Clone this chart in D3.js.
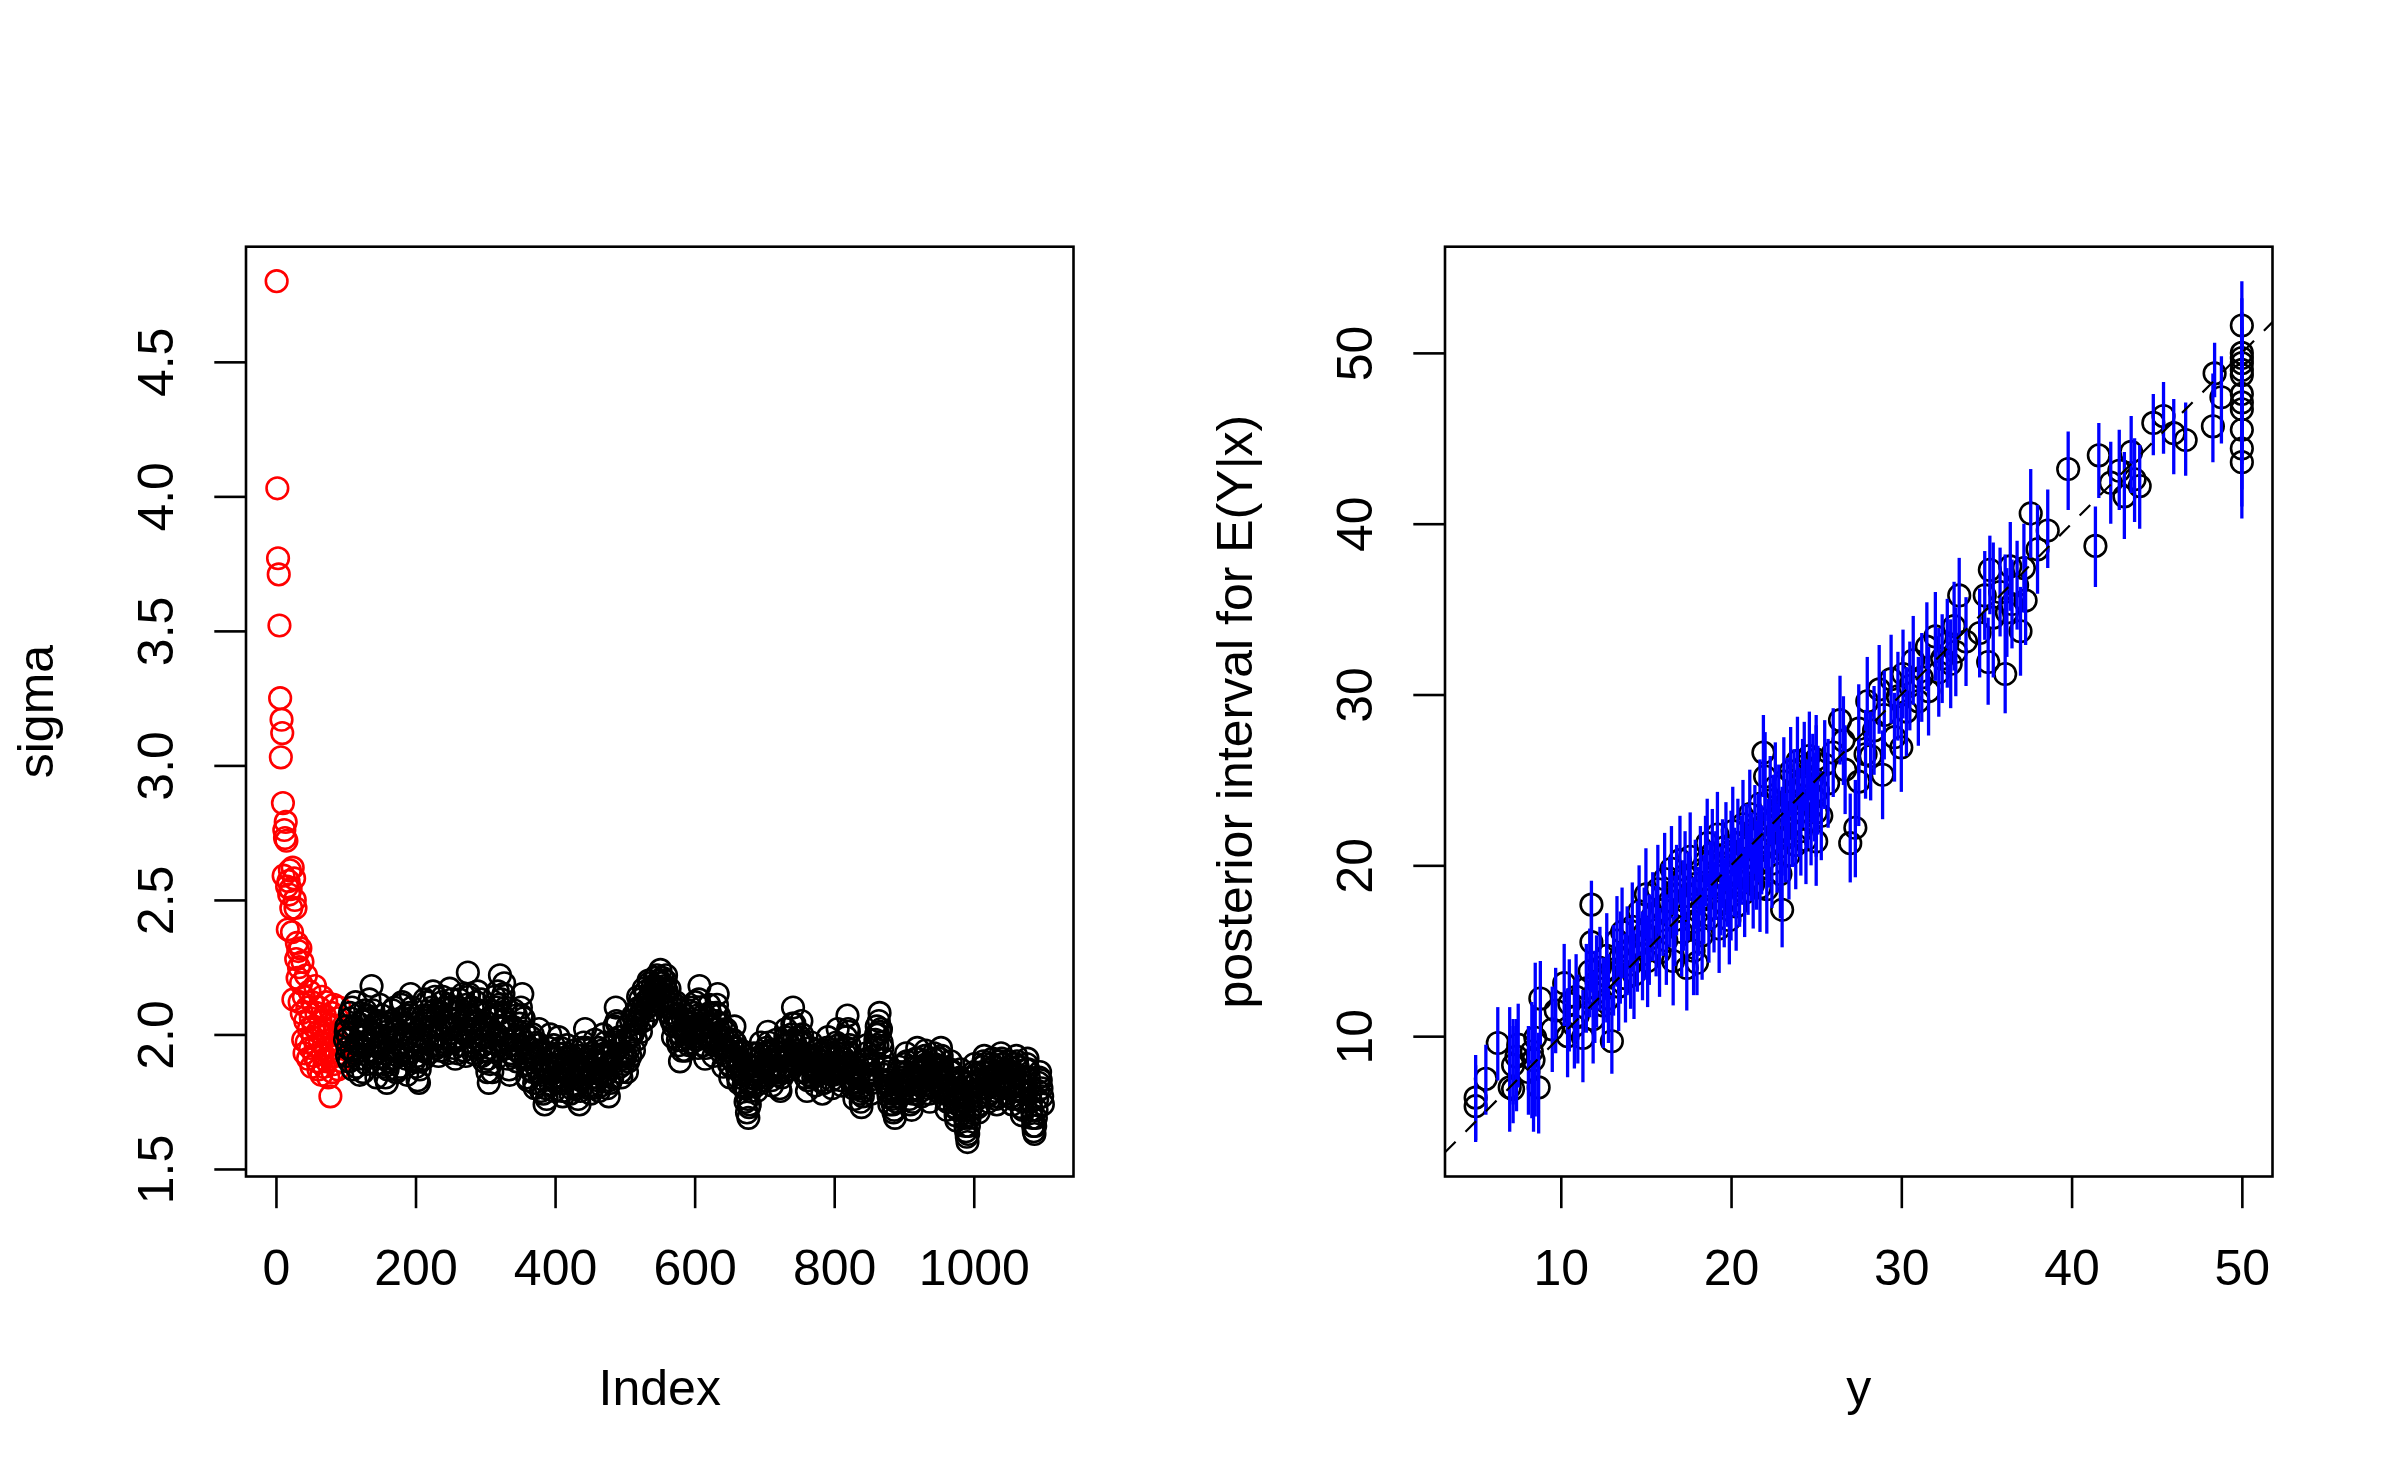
<!DOCTYPE html>
<html>
<head>
<meta charset="utf-8">
<style>
  body { margin: 0; background: #fff; }
  svg { display: block; }
  text { font-family: "Liberation Sans", Arial, sans-serif; font-size: 50px; fill: #000; }
  .box { fill: none; stroke: #000; stroke-width: 2.6px; }
  .tick line { stroke: #000; stroke-width: 2.6px; }
  .pt { fill: none; stroke-width: 2.6px; }
  .ci { stroke: #0000ff; stroke-width: 3.3px; }
  .refline { stroke: #000; stroke-width: 2.2px; stroke-dasharray: 15,14; fill: none; }
</style>
</head>
<body>
<div id="chart"></div>
<script src="https://cdn.jsdelivr.net/npm/d3@7"></script>
<script>
  // ---- left panel: sigma trace ----
  // burn-in draws, iterations 1..95 (red)
  var sigmaBurnIn = [
    4.80, 4.03, 3.77, 3.71, 3.52, 3.25, 3.03, 3.17, 3.12, 2.86,
    2.59, 2.76, 2.73, 2.79, 2.72, 2.55, 2.39, 2.57, 2.52, 2.61,
    2.54, 2.47, 2.38, 2.62, 2.13, 2.58, 2.50, 2.47, 2.28, 2.34,
    2.21, 2.31, 2.25, 2.12, 2.32, 2.19, 2.08, 2.27, 1.98, 2.14,
    1.93, 2.05, 2.22, 1.97, 2.10, 1.91, 2.02, 2.16, 1.95, 2.06,
    1.88, 2.12, 1.99, 2.03, 1.92, 2.18, 1.96, 2.08, 1.90, 2.01,
    1.87, 2.10, 1.97, 2.05, 1.85, 2.14, 1.93, 2.02, 1.88, 2.07,
    1.95, 2.12, 1.90, 2.00, 1.84, 2.04, 1.93, 1.77, 1.98, 2.08,
    1.86, 1.95, 2.11, 1.89, 2.03, 1.92, 1.98, 2.06, 1.87, 1.96,
    2.10, 1.93, 2.01, 1.90, 1.99
  ];
  // kept draws at odd iterations 99, 101, ..., 1099 (black)
  var sigmaKeptOdd = [
    1.98, 2.03, 1.95, 1.90, 2.06, 2.10, 2.01, 1.93, 1.88, 1.96, 2.04, 2.08, 1.99, 1.86, 1.91, 2.00, 2.07, 2.02, 1.94, 2.18, 2.09, 1.97, 1.89, 1.93, 2.05,
    2.11, 2.03, 1.96, 1.88, 1.84, 1.82, 1.90, 1.98, 2.05, 2.09, 2.01, 1.94, 1.87, 1.92, 2.00, 2.06, 2.12, 2.04, 1.97, 1.91, 1.99, 2.08, 2.15, 2.10, 2.02,
    1.95, 1.88, 1.83, 1.82, 1.90, 1.99, 2.07, 2.13, 2.06, 1.98, 1.93, 2.01, 2.10, 2.16, 2.09, 2.03, 1.96, 1.92, 2.00, 2.08, 2.14, 2.05, 1.97, 2.02, 2.11,
    2.17, 2.10, 2.03, 1.95, 1.91, 1.98, 2.06, 2.13, 2.09, 2.01, 1.94, 2.00, 2.11, 2.23, 2.15, 2.07, 1.99, 1.93, 2.04, 2.12, 2.16, 2.08, 2.00, 1.92, 1.96,
    2.03, 1.94, 1.86, 1.82, 1.89, 1.97, 2.06, 2.14, 2.07, 2.00, 2.11, 2.22, 2.13, 2.05, 2.19, 2.10, 1.98, 1.91, 1.85, 1.93, 2.02, 2.09, 1.99, 1.90, 1.96,
    2.04, 2.10, 2.15, 2.06, 1.97, 1.89, 1.83, 1.91, 1.99, 1.93, 1.86, 1.80, 1.88, 1.96, 2.02, 1.94, 1.85, 1.78, 1.74, 1.80, 1.87, 1.95, 2.00, 1.92, 1.84,
    1.79, 1.86, 1.93, 1.99, 1.90, 1.83, 1.77, 1.82, 1.89, 1.96, 1.91, 1.85, 1.80, 1.87, 1.94, 1.88, 1.81, 1.76, 1.74, 1.83, 1.90, 1.97, 2.02, 1.95, 1.87,
    1.81, 1.78, 1.84, 1.92, 1.98, 1.90, 1.83, 1.79, 1.86, 1.94, 2.00, 1.93, 1.85, 1.80, 1.77, 1.82, 1.89, 1.96, 2.03, 2.10, 2.04, 1.95, 1.88, 1.84, 1.91,
    1.97, 1.92, 1.86, 1.90, 1.99, 2.05, 2.00, 1.94, 2.02, 2.09, 2.14, 2.07, 2.01, 2.10, 2.17, 2.12, 2.06, 2.13, 2.19, 2.15, 2.09, 2.16, 2.21, 2.18, 2.12,
    2.20, 2.24, 2.17, 2.11, 2.18, 2.22, 2.14, 2.08, 2.13, 2.05, 1.99, 2.07, 2.12, 2.03, 1.96, 1.90, 1.98, 2.06, 2.01, 1.94, 2.02, 2.09, 2.04, 1.97, 2.03,
    2.08, 2.12, 2.01, 1.95, 2.18, 2.10, 2.03, 1.96, 1.91, 1.99, 2.06, 2.11, 2.04, 1.97, 1.92, 2.00, 2.08, 2.15, 2.07, 1.98, 1.93, 1.88, 1.95, 2.02, 1.94,
    1.89, 1.84, 1.91, 1.98, 2.03, 1.95, 1.87, 1.82, 1.88, 1.94, 1.86, 1.80, 1.75, 1.71, 1.69, 1.74, 1.81, 1.88, 1.93, 1.85, 1.79, 1.84, 1.91, 1.97, 1.90,
    1.83, 1.88, 1.95, 2.01, 1.94, 1.87, 1.81, 1.86, 1.92, 1.98, 1.91, 1.85, 1.79, 1.84, 1.90, 1.96, 2.02, 1.94, 1.88, 1.93, 2.00, 2.10, 2.04, 1.96, 1.89,
    1.93, 1.99, 2.05, 1.97, 1.90, 1.84, 1.79, 1.85, 1.92, 1.97, 1.91, 1.86, 1.81, 1.87, 1.94, 1.89, 1.83, 1.78, 1.82, 1.88, 1.95, 1.99, 1.92, 1.86, 1.80,
    1.85, 1.91, 1.97, 2.02, 1.94, 1.87, 1.81, 1.86, 1.93, 1.99, 2.07, 2.01, 1.93, 1.86, 1.80, 1.76, 1.82, 1.89, 1.84, 1.78, 1.73, 1.77, 1.84, 1.90, 1.96,
    1.89, 1.83, 1.78, 1.85, 1.92, 1.98, 2.03, 2.00, 2.08, 2.02, 1.95, 1.88, 1.82, 1.86, 1.79, 1.74, 1.80, 1.76, 1.71, 1.69, 1.75, 1.82, 1.88, 1.84, 1.78,
    1.83, 1.89, 1.93, 1.86, 1.79, 1.74, 1.72, 1.78, 1.85, 1.91, 1.95, 1.88, 1.82, 1.77, 1.84, 1.90, 1.94, 1.87, 1.80, 1.75, 1.81, 1.88, 1.93, 1.86, 1.79,
    1.85, 1.91, 1.95, 1.88, 1.81, 1.76, 1.72, 1.78, 1.84, 1.90, 1.86, 1.79, 1.73, 1.68, 1.74, 1.80, 1.87, 1.82, 1.75, 1.69, 1.64, 1.60, 1.66, 1.72, 1.78,
    1.84, 1.89, 1.82, 1.76, 1.71, 1.77, 1.83, 1.88, 1.92, 1.86, 1.80, 1.75, 1.81, 1.87, 1.91, 1.85, 1.79, 1.74, 1.80, 1.86, 1.93, 1.89, 1.83, 1.78, 1.84,
    1.90, 1.86, 1.80, 1.74, 1.79, 1.85, 1.92, 1.88, 1.82, 1.76, 1.70, 1.75, 1.81, 1.87, 1.91, 1.84, 1.78, 1.72, 1.66, 1.63, 1.69, 1.76, 1.82, 1.86, 1.80,
    1.74
  ];
  // kept draws at even iterations 100, 102, ..., 1098 (black)
  var sigmaKeptEven = [
    2.01, 1.92, 1.99, 2.08, 1.94, 1.87, 2.03, 2.12, 1.97, 1.91, 1.85, 2.00, 2.05, 1.95, 2.09, 1.89, 1.96, 2.13, 2.06, 1.99, 1.92, 2.04, 1.84, 2.00, 1.95,
    1.97, 2.07, 1.89, 1.93, 2.01, 1.87, 1.95, 2.04, 1.91, 1.99, 2.10, 1.86, 2.02, 1.96, 1.88, 2.11, 1.94, 2.00, 2.07, 1.85, 2.03, 1.93, 2.06, 1.98, 1.90,
    2.04, 1.92, 1.97, 1.87, 2.02, 1.94, 1.91, 2.05, 2.12, 1.93, 2.07, 1.96, 2.03, 1.99, 2.14, 1.95, 2.08, 2.00, 1.94, 2.12, 2.03, 1.96, 2.10, 1.93, 2.06,
    2.02, 2.13, 1.97, 2.08, 1.99, 1.93, 2.10, 2.02, 1.96, 2.15, 2.05, 1.92, 2.07, 2.14, 2.01, 1.97, 2.10, 2.05, 1.95, 2.02, 2.09, 1.98, 2.13, 2.04, 1.90,
    1.99, 2.08, 1.91, 1.95, 2.02, 1.86, 2.00, 1.94, 2.10, 2.16, 2.03, 2.08, 1.97, 2.15, 2.06, 1.95, 2.04, 1.87, 1.96, 2.03, 1.92, 1.98, 2.07, 1.94, 2.01,
    1.93, 2.07, 1.98, 2.01, 1.91, 1.84, 1.95, 1.87, 1.92, 2.00, 1.82, 1.91, 1.97, 1.86, 1.93, 1.79, 1.88, 1.83, 1.90, 1.76, 1.93, 1.86, 1.81, 1.89, 1.96,
    1.91, 1.82, 1.88, 1.84, 1.95, 1.79, 1.87, 1.93, 1.83, 1.90, 1.86, 1.78, 1.92, 1.84, 1.89, 1.80, 1.86, 1.92, 1.79, 1.87, 1.95, 1.84, 1.91, 1.88, 1.80,
    1.88, 1.93, 1.80, 1.86, 1.90, 1.84, 1.95, 1.87, 1.81, 1.89, 1.85, 1.97, 1.88, 1.92, 1.83, 1.90, 1.84, 1.93, 1.98, 2.05, 1.92, 1.99, 1.86, 1.93, 1.89,
    1.93, 1.98, 2.03, 1.95, 1.92, 2.01, 2.07, 2.04, 1.98, 2.05, 2.10, 2.13, 2.08, 2.05, 2.11, 2.16, 2.10, 2.20, 2.14, 2.11, 2.18, 2.13, 2.17, 2.22, 2.16,
    2.15, 2.19, 2.21, 2.14, 2.20, 2.16, 2.10, 2.17, 2.06, 2.10, 2.03, 2.11, 2.06, 1.98, 2.05, 2.00, 1.94, 2.02, 2.07, 1.99, 2.05, 1.96, 2.10, 2.02, 1.99,
    2.03, 1.98, 2.07, 2.13, 2.02, 1.99, 2.07, 2.00, 1.95, 2.04, 1.98, 2.08, 1.99, 2.03, 1.96, 2.05, 2.11, 2.02, 1.96, 2.04, 1.99, 1.95, 2.01, 1.92, 1.98,
    1.94, 1.88, 1.95, 1.90, 1.97, 1.91, 1.84, 1.89, 1.93, 1.85, 1.81, 1.87, 1.80, 1.76, 1.73, 1.79, 1.84, 1.91, 1.86, 1.81, 1.88, 1.93, 1.86, 1.92, 1.85,
    1.89, 1.93, 1.86, 1.97, 1.90, 1.83, 1.88, 1.94, 1.87, 1.93, 1.86, 1.80, 1.88, 1.93, 1.86, 1.99, 1.92, 1.97, 1.91, 1.87, 2.04, 1.98, 1.92, 1.90, 1.94,
    1.97, 1.91, 2.00, 1.93, 1.86, 1.90, 1.83, 1.89, 1.95, 1.88, 1.84, 1.92, 1.86, 1.91, 1.85, 1.93, 1.87, 1.82, 1.90, 1.94, 1.89, 1.93, 1.87, 1.83, 1.88,
    1.89, 1.86, 1.93, 1.96, 1.90, 1.83, 1.88, 1.91, 1.87, 1.95, 2.02, 1.96, 1.89, 1.82, 1.85, 1.81, 1.87, 1.84, 1.80, 1.75, 1.79, 1.83, 1.88, 1.93, 1.91,
    1.85, 1.87, 1.82, 1.89, 1.95, 2.00, 1.96, 2.05, 2.01, 1.97, 1.91, 1.85, 1.88, 1.81, 1.77, 1.83, 1.78, 1.74, 1.72, 1.78, 1.80, 1.86, 1.81, 1.79, 1.84,
    1.86, 1.82, 1.90, 1.81, 1.76, 1.79, 1.75, 1.82, 1.88, 1.86, 1.91, 1.84, 1.79, 1.81, 1.87, 1.92, 1.89, 1.83, 1.78, 1.85, 1.84, 1.91, 1.89, 1.82, 1.83,
    1.88, 1.87, 1.92, 1.84, 1.78, 1.80, 1.75, 1.81, 1.87, 1.86, 1.82, 1.76, 1.70, 1.72, 1.77, 1.84, 1.83, 1.78, 1.72, 1.66, 1.62, 1.63, 1.69, 1.75, 1.81,
    1.86, 1.85, 1.79, 1.73, 1.74, 1.80, 1.86, 1.90, 1.89, 1.83, 1.77, 1.78, 1.84, 1.89, 1.88, 1.82, 1.76, 1.77, 1.83, 1.90, 1.91, 1.86, 1.80, 1.81, 1.87,
    1.88, 1.83, 1.77, 1.76, 1.82, 1.89, 1.90, 1.85, 1.79, 1.73, 1.72, 1.78, 1.84, 1.89, 1.87, 1.81, 1.75, 1.69, 1.64, 1.66, 1.72, 1.79, 1.84, 1.83, 1.77
  ];
  var indexTicks = [0, 200, 400, 600, 800, 1000];
  var sigmaTicks = [1.5, 2.0, 2.5, 3.0, 3.5, 4.0, 4.5];

  // ---- right panel: observed y vs posterior for E(Y|x) ----
  var obsY = [
    5.0, 5.0, 5.6, 6.3, 7.0, 7.2, 7.2, 7.4, 7.5, 8.1,
    8.3, 8.4, 8.5, 8.7, 8.8, 9.5, 9.7, 10.2, 10.4, 10.5,
    10.8, 10.9, 11.0, 11.3, 11.5, 11.7, 11.8, 11.8, 11.9, 12.0,
    12.1, 12.3, 12.5, 12.7, 12.7, 12.8, 13.0, 13.1, 13.3, 13.4,
    13.5, 13.6, 13.8, 13.9, 14.1, 14.2, 14.3, 14.5, 14.6, 14.8,
    14.9, 15.0, 15.1, 15.2, 15.4, 15.6, 15.7, 15.8, 16.0, 16.1,
    16.2, 16.4, 16.5, 16.6, 16.7, 16.8, 17.0, 17.1, 17.2, 17.3,
    17.4, 17.5, 17.6, 17.8, 17.8, 17.9, 18.0, 18.1, 18.2, 18.3,
    18.4, 18.5, 18.6, 18.7, 18.8, 18.9, 19.0, 19.1, 19.2, 19.3,
    19.4, 19.5, 19.6, 19.7, 19.8, 19.9, 20.0, 20.0, 20.1, 20.2,
    20.3, 20.4, 20.5, 20.6, 20.7, 20.8, 20.9, 21.0, 21.1, 21.2,
    21.3, 21.4, 21.5, 21.6, 21.7, 21.7, 21.8, 21.9, 22.0, 22.0,
    22.1, 22.2, 22.3, 22.4, 22.5, 22.6, 22.7, 22.8, 22.9, 23.0,
    23.0, 23.1, 23.2, 23.3, 23.4, 23.5, 23.6, 23.7, 23.8, 23.9,
    24.0, 24.1, 24.2, 24.3, 24.4, 24.5, 24.6, 24.7, 24.8, 24.9,
    25.0, 25.0, 25.0, 25.0, 25.1, 25.3, 25.5, 25.7, 26.0, 26.4,
    26.6, 26.7, 27.0, 27.3, 27.5, 27.5, 27.9, 28.0, 28.2, 28.4,
    28.7, 28.9, 29.0, 29.4, 29.6, 29.8, 30.0, 30.1, 30.3, 30.5,
    30.7, 31.0, 31.2, 31.5, 31.6, 32.0, 32.2, 32.4, 32.7, 32.9,
    33.1, 33.2, 33.4, 33.8, 34.6, 34.9, 35.1, 35.2, 35.4, 35.8,
    36.1, 36.2, 36.4, 36.5, 36.8, 37.0, 37.2, 37.3, 37.6, 38.0,
    38.6, 39.8, 41.4, 41.6, 42.3, 42.8, 43.1, 43.5, 43.7, 44.0,
    44.8, 45.4, 46.0, 46.7, 48.3, 48.4, 48.8, 50.0, 50.0, 50.0,
    50.0, 50.0, 50.0, 50.0, 50.0, 50.0, 50.0, 50.0, 50.0
  ];
  var postMean = [
    6.4, 5.9, 7.5, 9.6, 7.0, 6.9, 8.3, 8.8, 9.5, 7.9,
    9.1, 8.6, 9.9, 7.0, 12.2, 10.4, 11.5, 13.1, 10.0, 11.9,
    10.6, 12.3, 11.2, 9.9, 12.8, 13.8, 17.7, 15.5, 11.0, 12.5,
    13.2, 14.0, 11.8, 13.5, 14.7, 12.2, 9.7, 13.9, 15.6, 12.9,
    14.6, 16.1, 13.4, 15.0, 14.2, 16.4, 13.6, 15.3, 17.3, 14.8,
    16.0, 18.3, 14.4, 15.7, 17.0, 16.2, 18.6, 14.9, 17.4, 19.2,
    15.6, 17.9, 19.8, 14.4, 16.8, 18.6, 20.3, 16.1, 17.6, 19.4,
    14.0, 18.2, 20.5, 16.7, 15.0, 18.9, 14.3, 17.3, 19.7, 15.9,
    18.0, 20.2, 21.3, 16.9, 18.8, 20.7, 17.5, 19.4, 21.8, 16.3,
    18.5, 20.1, 17.8, 21.1, 19.0, 16.8, 20.6, 18.2, 22.0, 19.6,
    17.6, 21.3, 19.0, 20.3, 22.4, 18.4, 21.0, 19.7, 23.0, 20.5,
    18.9, 22.1, 20.0, 21.6, 23.6, 18.7, 20.9, 26.6, 25.2, 22.4,
    18.6, 21.3, 23.8, 20.1, 22.7, 24.6, 21.0, 23.3, 19.5, 17.4,
    22.0, 24.9, 21.6, 23.7, 20.6, 25.5, 22.5, 24.2, 21.2, 26.1,
    23.1, 22.0, 24.8, 25.8, 21.5, 23.6, 26.4, 22.6, 25.1, 24.0,
    21.4, 26.2, 23.1, 25.6, 24.4, 22.9, 25.9, 24.8, 26.6, 28.5,
    27.3, 25.6, 21.3, 22.2, 28.0, 24.9, 26.5, 29.6, 26.4, 27.9,
    30.3, 25.3, 28.8, 30.9, 27.5, 29.9, 26.9, 31.2, 29.0, 30.5,
    32.0, 29.6, 31.0, 32.8, 30.2, 33.4, 31.3, 32.1, 33.0, 31.8,
    34.0, 32.5, 35.8, 33.1, 33.6, 35.8, 31.9, 37.3, 34.5, 36.0,
    31.2, 34.8, 37.5, 35.3, 36.4, 33.7, 37.4, 35.5, 40.6, 38.5,
    39.6, 43.2, 38.7, 44.0, 42.4, 43.1, 41.6, 44.2, 42.6, 42.2,
    45.9, 46.3, 45.3, 44.9, 45.7, 48.8, 47.4, 51.6, 50.0, 49.7,
    49.4, 49.0, 48.7, 47.6, 47.1, 46.7, 45.5, 44.4, 43.6
  ];
  var postLo = [
    3.8, 3.9, 5.4, 7.4, 4.4, 4.9, 6.0, 5.6, 7.0, 5.4,
    5.2, 4.4, 5.3, 4.3, 9.5, 7.9, 9.0, 10.6, 7.6, 9.1,
    8.1, 9.7, 8.4, 7.3, 10.2, 11.1, 12.6, 12.6, 8.4, 9.6,
    10.5, 11.5, 9.3, 10.8, 12.1, 9.6, 7.8, 11.2, 12.9, 10.3,
    11.9, 13.4, 10.8, 12.4, 11.6, 13.8, 11.0, 12.6, 14.7, 12.1,
    13.3, 15.7, 11.7, 13.0, 14.4, 13.5, 16.0, 12.3, 14.7, 16.6,
    13.0, 15.2, 17.1, 11.8, 14.1, 15.9, 17.7, 13.5, 15.0, 16.8,
    11.5, 15.6, 17.9, 14.0, 12.4, 16.3, 12.4, 14.7, 17.1, 13.3,
    15.4, 17.6, 18.7, 14.3, 16.2, 18.1, 14.9, 16.8, 19.2, 13.7,
    15.9, 17.5, 15.2, 18.5, 16.4, 14.2, 18.0, 15.6, 19.4, 17.0,
    15.0, 18.7, 16.4, 17.7, 19.8, 15.8, 18.4, 17.1, 20.4, 17.9,
    16.3, 19.5, 17.4, 19.0, 21.0, 16.1, 18.3, 24.0, 22.6, 19.8,
    16.0, 18.7, 21.2, 17.5, 20.1, 22.0, 18.4, 20.7, 16.9, 15.2,
    19.4, 22.3, 19.0, 21.1, 18.0, 22.9, 19.9, 21.6, 18.6, 23.5,
    20.5, 19.4, 22.2, 23.2, 18.9, 21.0, 23.8, 20.0, 22.5, 21.4,
    18.8, 23.6, 20.5, 23.0, 21.8, 20.3, 23.3, 22.2, 24.0, 25.9,
    24.7, 23.0, 19.0, 19.3, 25.4, 22.3, 23.9, 27.0, 23.8, 25.3,
    27.7, 22.7, 26.2, 28.3, 24.9, 27.3, 24.3, 28.6, 26.4, 27.9,
    29.4, 27.0, 28.4, 30.2, 27.6, 30.8, 28.7, 29.5, 30.4, 29.2,
    31.4, 29.9, 33.2, 30.5, 31.0, 33.2, 29.4, 34.7, 31.0, 33.4,
    28.9, 32.2, 34.9, 32.7, 33.8, 31.1, 34.8, 32.9, 38.0, 35.9,
    37.4, 40.8, 36.3, 41.5, 40.0, 40.8, 39.1, 41.8, 40.1, 39.7,
    44.0, 44.1, 42.9, 42.8, 43.6, 47.4, 44.7, 48.5, 46.5, 47.0,
    46.0, 45.7, 45.5, 44.5, 44.0, 43.5, 42.0, 41.0, 40.3
  ];
  var postHi = [
    8.9, 8.3, 9.5, 11.7, 11.7, 11.0, 10.6, 11.0, 11.9, 10.6,
    12.0, 11.8, 14.3, 10.2, 14.4, 12.9, 14.0, 15.4, 12.8, 14.5,
    13.3, 14.8, 13.6, 12.7, 15.4, 16.3, 19.1, 18.0, 13.8, 15.0,
    15.9, 16.4, 14.6, 16.1, 17.2, 14.8, 12.4, 16.5, 18.2, 15.5,
    17.3, 18.7, 16.0, 17.6, 16.9, 19.0, 16.2, 17.9, 20.0, 17.3,
    18.7, 21.0, 17.0, 18.3, 19.6, 18.8, 21.2, 17.5, 20.1, 21.9,
    18.3, 20.5, 22.3, 17.0, 19.4, 21.2, 22.9, 18.7, 20.3, 22.0,
    16.7, 20.8, 23.1, 19.3, 17.6, 21.5, 17.2, 19.9, 22.3, 18.5,
    20.6, 22.9, 23.9, 19.5, 21.4, 23.3, 20.2, 22.0, 24.3, 18.9,
    21.1, 22.7, 20.4, 23.7, 21.6, 19.4, 23.2, 20.8, 24.6, 22.2,
    20.2, 23.9, 21.6, 22.9, 25.0, 21.0, 23.6, 22.3, 25.6, 23.1,
    21.5, 24.7, 22.6, 24.2, 26.2, 21.3, 23.5, 28.8, 27.8, 25.0,
    21.2, 23.9, 26.4, 22.7, 25.3, 27.2, 23.6, 25.9, 22.1, 20.0,
    24.6, 27.5, 24.2, 26.3, 23.2, 28.1, 25.1, 26.8, 23.8, 28.7,
    25.7, 24.6, 27.4, 28.4, 24.1, 26.2, 29.0, 25.2, 27.7, 26.6,
    24.0, 28.8, 25.7, 28.2, 27.0, 25.5, 28.5, 27.4, 29.2, 31.1,
    29.9, 28.2, 24.2, 25.0, 30.6, 27.5, 29.1, 32.2, 29.0, 30.5,
    32.9, 27.9, 31.4, 33.5, 30.1, 32.5, 29.5, 33.8, 31.6, 33.1,
    34.6, 32.2, 33.6, 35.4, 32.8, 36.0, 33.9, 34.7, 35.6, 34.4,
    36.6, 35.1, 38.0, 35.7, 36.2, 38.4, 34.5, 39.3, 38.9, 38.6,
    38.2, 37.4, 40.1, 37.9, 39.0, 36.3, 40.0, 38.1, 43.2, 41.1,
    42.0, 45.4, 41.0, 45.9, 44.8, 45.5, 44.2, 46.3, 45.0, 44.6,
    47.6, 48.3, 47.3, 47.1, 48.8, 50.6, 49.8, 54.2, 53.2, 52.4,
    52.0, 51.5, 51.0, 50.5, 50.0, 49.5, 48.8, 47.5, 46.8
  ];
  var yTicks = [10, 20, 30, 40, 50];

  var width = 2400, height = 1483;
  var plotTop = 246.7, plotH = 929.8, plotW = 827.5;
  var leftX0 = 246, rightX0 = 1445;

  // R pads the data range by 4% on each side
  function rPad(ext) {
    var d = (ext[1] - ext[0]) * 0.04;
    return [ext[0] - d, ext[1] + d];
  }

  var svg = d3.select("#chart").append("svg")
      .attr("width", width)
      .attr("height", height);

  function styleBottom(g) {
    g.select(".domain").remove();
    g.attr("font-size", null).attr("font-family", null);
    g.selectAll(".tick text").attr("y", 108.7).attr("dy", null);
  }
  function styleLeft(g) {
    g.select(".domain").remove();
    g.attr("font-size", null).attr("font-family", null);
    g.selectAll(".tick text")
        .attr("x", null).attr("dy", null)
        .attr("text-anchor", "middle")
        .attr("transform", "translate(-73,0) rotate(-90)");
  }

  function panel(x0, xDomain, yDomain, xTicks, yTicks, xFmt, yFmt, xlab, ylab) {
    var g = svg.append("g").attr("transform", "translate(" + x0 + "," + plotTop + ")");
    var x = d3.scaleLinear().domain(xDomain).range([0, plotW]);
    var y = d3.scaleLinear().domain(yDomain).range([plotH, 0]);

    g.append("g")
        .attr("transform", "translate(0," + plotH + ")")
        .call(d3.axisBottom(x).tickValues(xTicks).tickSize(31.7).tickFormat(xFmt))
        .call(styleBottom);
    g.append("g")
        .call(d3.axisLeft(y).tickValues(yTicks).tickSize(31.7).tickFormat(yFmt))
        .call(styleLeft);

    g.append("text")
        .attr("x", plotW / 2)
        .attr("y", plotH + 228.5)
        .attr("text-anchor", "middle")
        .text(xlab);
    g.append("text")
        .attr("transform", "translate(-193.3," + (plotH / 2) + ") rotate(-90)")
        .attr("text-anchor", "middle")
        .text(ylab);

    var clipId = "clip" + x0;
    g.append("clipPath").attr("id", clipId)
      .append("rect").attr("width", plotW).attr("height", plotH);
    var body = g.append("g").attr("clip-path", "url(#" + clipId + ")");

    return {g: g, body: body, x: x, y: y};
  }

  // ---- left panel ----
  var kept = sigmaKeptOdd.map(function(v, i) { return {iter: 99 + 2 * i, sigma: v, burn: false}; })
      .concat(sigmaKeptEven.map(function(v, i) { return {iter: 100 + 2 * i, sigma: v, burn: false}; }))
      .sort(function(a, b) { return a.iter - b.iter; });
  var trace = sigmaBurnIn.map(function(v, i) { return {iter: i + 1, sigma: v, burn: true}; })
      .concat(kept);

  var L = panel(leftX0,
      rPad(d3.extent(trace, function(d) { return d.iter; })),
      rPad(d3.extent(trace, function(d) { return d.sigma; })),
      indexTicks, sigmaTicks, d3.format("d"), d3.format(".1f"),
      "Index", "sigma");

  L.body.selectAll("circle")
      .data(trace)
    .enter().append("circle")
      .attr("class", "pt")
      .attr("cx", function(d) { return L.x(d.iter); })
      .attr("cy", function(d) { return L.y(d.sigma); })
      .attr("r", 10.8)
      .attr("stroke", function(d) { return d.burn ? "#ff0000" : "#000000"; });

  L.g.append("rect").attr("class", "box").attr("width", plotW).attr("height", plotH);

  // ---- right panel ----
  var fits = obsY.map(function(v, i) {
    return {obs: v, mean: postMean[i], lo: postLo[i], hi: postHi[i]};
  });
  var xExt = rPad(d3.extent(obsY));
  var yExt = rPad([d3.min(postLo.concat(postMean)), d3.max(postHi.concat(postMean))]);

  var R = panel(rightX0, xExt, yExt, yTicks, yTicks, d3.format("d"), d3.format("d"),
      "y", "posterior interval for E(Y|x)");

  R.body.selectAll("circle")
      .data(fits)
    .enter().append("circle")
      .attr("class", "pt")
      .attr("stroke", "#000")
      .attr("cx", function(d) { return R.x(d.obs); })
      .attr("cy", function(d) { return R.y(d.mean); })
      .attr("r", 10.8);

  R.body.selectAll("line.ci")
      .data(fits)
    .enter().append("line")
      .attr("class", "ci")
      .attr("x1", function(d) { return R.x(d.obs); })
      .attr("x2", function(d) { return R.x(d.obs); })
      .attr("y1", function(d) { return R.y(d.lo); })
      .attr("y2", function(d) { return R.y(d.hi); });

  // abline(0, 1)
  R.body.append("line")
      .attr("class", "refline")
      .attr("x1", R.x(xExt[0])).attr("y1", R.y(xExt[0]))
      .attr("x2", R.x(xExt[1])).attr("y2", R.y(xExt[1]));

  R.g.append("rect").attr("class", "box").attr("width", plotW).attr("height", plotH);
</script>
</body>
</html>
